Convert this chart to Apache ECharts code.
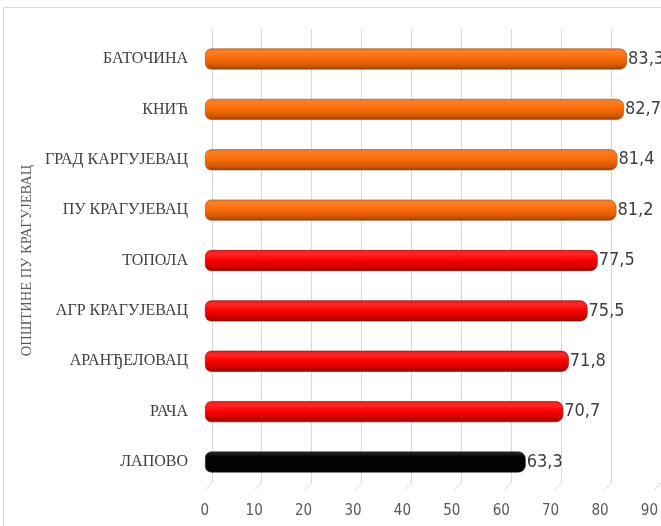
<!DOCTYPE html>
<html><head><meta charset="utf-8">
<script src="https://cdn.jsdelivr.net/npm/echarts@6/dist/echarts.min.js"></script>
<style>html,body{margin:0;padding:0;background:#fff}#c{width:661px;height:526px}</style>
</head><body><div id="c"></div>
<script>
// ---- data ----
const categories = ['БАТОЧИНА','КНИЋ','ГРАД КАРГУЈЕВАЦ','ПУ КРАГУЈЕВАЦ','ТОПОЛА','АГР КРАГУЈЕВАЦ','АРАНЂЕЛОВАЦ','РАЧА','ЛАПОВО'];
const values = [83.3, 82.7, 81.4, 81.2, 77.5, 75.5, 71.8, 70.7, 63.3];
const groups = ['high','high','high','high','mid','mid','mid','mid','low'];
const xTicks = [0,10,20,30,40,50,60,70,80,90];
const yAxisTitle = 'ОПШТИНЕ ПУ КРАГУЈЕВАЦ';

// ---- styles ----
function grad(stops){return new echarts.graphic.LinearGradient(0,0,0,1,stops.map((c,i)=>({offset:c[0],color:c[1]})));}
const groupStyle = {
  high: {grad:[[0,'#E57A35'],[0.18,'#FF7C22'],[0.5,'#F76A08'],[0.8,'#D55A05'],[1,'#94400A']], border:'#A54A0C'},
  mid:  {grad:[[0,'#E51A1A'],[0.18,'#FF2626'],[0.5,'#F80000'],[0.8,'#D00000'],[1,'#870000']], border:'#9A0000'},
  low:  {grad:[[0,'#2a2a2a'],[0.25,'#050505'],[1,'#000000']], border:'#333333'}
};

const chart = echarts.init(document.getElementById('c'));
const barData = values.map((v,i)=>({value:v, itemStyle:{color:grad(groupStyle[groups[i]].grad), borderColor:groupStyle[groups[i]].border}}));

chart.setOption({
  animation:false,
  graphic:[{type:'rect', shape:{x:3.5,y:7.5,width:700,height:600}, style:{fill:'none',stroke:'#d9d9d9',lineWidth:1}, z:-10}],
  grid:[
    {left:205, top:33.8, width:458, height:453.4},
    {left:211.8, top:29, width:451.8, height:454},
    {left:204.8, top:36, width:451.8, height:454}
  ],
  xAxis:[
    {gridIndex:0, type:'value', min:0, max:90, show:false},
    {gridIndex:1, type:'value', min:0, max:90, interval:10, axisLabel:{show:false}, axisLine:{show:false}, axisTick:{show:false},
      splitLine:{show:true, lineStyle:{color:'#d9d9d9', width:1}}},
    {gridIndex:2, type:'value', min:0, max:90, interval:10, axisLine:{show:false}, axisTick:{show:false}, splitLine:{show:false},
      axisLabel:{margin:14, color:'#595959', fontSize:15, fontFamily:"'Liberation Sans Narrow','DejaVu Sans Condensed',sans-serif", showMaxLabel:true}}
  ],
  yAxis:[
    {gridIndex:0, type:'category', data:categories, inverse:true, axisLine:{show:false}, axisTick:{show:false},
      axisLabel:{margin:17, color:'#404040', fontSize:16, fontFamily:"'Liberation Serif',serif", padding:[5,0,0,0]},
      name:yAxisTitle, nameLocation:'middle', nameRotate:90, nameGap:170, nameMoveOverlap:false,
      nameTextStyle:{color:'#595959', fontSize:14.5, fontFamily:"'Liberation Serif',serif"}},
    {gridIndex:1, type:'value', min:0, max:1, show:false},
    {gridIndex:2, type:'value', min:0, max:1, show:false}
  ],
  series:[
    {type:'bar', xAxisIndex:0, yAxisIndex:0, data:barData, barWidth:21,
      itemStyle:{borderRadius:[6,7,7,6], borderWidth:0.6},
      label:{show:true, position:'right', distance:1, color:'#404040', fontSize:18,
        fontFamily:"'Liberation Sans Narrow','DejaVu Sans Condensed',sans-serif",
        formatter:p=>String(p.value).replace('.',',')}},
    {type:'custom', xAxisIndex:1, yAxisIndex:1, data:xTicks.map(t=>[t,0]), silent:true,
      renderItem:(params,api)=>{
        const p = api.coord([api.value(0),0]);
        return {type:'line', shape:{x1:p[0],y1:p[1],x2:p[0]-7,y2:p[1]+7}, style:{stroke:'#d9d9d9',lineWidth:1}};
      }}
  ]
});
</script></body></html>
